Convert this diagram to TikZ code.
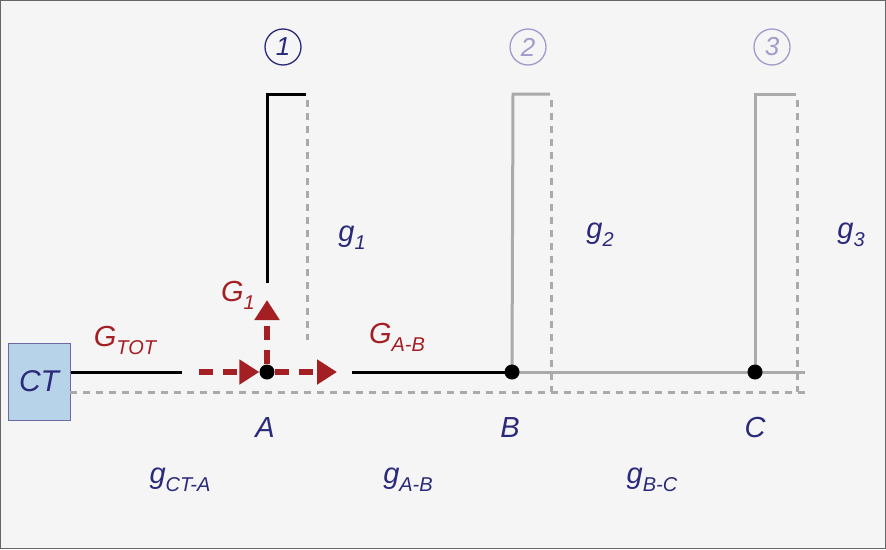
\documentclass[tikz,border=0pt]{standalone}
\usepackage{fontspec}
\setmainfont{Liberation Sans}
\usetikzlibrary{arrows.meta}
\definecolor{bg}{HTML}{F5F5F5}
\definecolor{navy}{HTML}{2B2A7A}
\definecolor{lav}{HTML}{A09CCC}
\definecolor{dred}{HTML}{A31F24}
\definecolor{lblue}{HTML}{B7D3EA}
\definecolor{lgray}{HTML}{AAAAAA}
\newcommand{\sbs}[1]{\raisebox{-8pt}{\fontsize{20}{22}\selectfont #1}}
\tikzset{
  lbl/.style={font=\fontsize{29}{31}\selectfont\itshape, text=navy, inner sep=0},
  rlbl/.style={lbl, text=dred},
  num/.style={circle, draw, line width=1.3pt, minimum size=36pt, inner sep=0, font=\fontsize{26}{28}\selectfont\itshape},
  blk/.style={line width=3pt, black},
  gry/.style={line width=3pt, lgray},
  dsh/.style={line width=3pt, lgray, dash pattern=on 7pt off 6pt},
  rarr/.style={line width=6pt, dred, dash pattern=on 14pt off 10pt, -{Triangle[length=20pt,width=24pt]}},
  dot/.style={circle, fill=black, minimum size=15pt, inner sep=0}
}
\begin{document}
\begin{tikzpicture}[x=1pt,y=-1pt]
\fill[bg] (0,0) rectangle (886,549);
\draw[gray!80!black, line width=1pt] (0.5,0.5) rectangle (885.5,548.5);
\node[draw=navy!70, fill=lblue, line width=1pt, minimum width=62pt, minimum height=77pt, inner sep=0, font=\fontsize{30}{32}\selectfont\itshape, text=navy] (CT) at (39,381.5) {CT};
\coordinate (A) at (267,372);
\coordinate (B) at (512,372);
\coordinate (C) at (755,372);
\coordinate (e) at (805,372);
% dashed ground line
\draw[dsh] (70,392) -- (805,392);
\draw[dsh] (307,100) -- (307,340);
\draw[dsh] (551,100) -- (551,392);
\draw[dsh] (797,100) -- (797,392);
% main line
\draw[blk] (CT.east |- 0,372) -- (182,372);
\draw[blk] (352,372) -- (B);
\draw[gry] (B) -- (e);
\draw[blk] (267,283) -- (267,94) -- (306,94);
\draw[gry] (B) -- (513,94) -- (550,94);
\draw[gry] (C) -- (755,94) -- (796,94);
\node[dot] (dA) at (A) {};
\node[dot] (dB) at (B) {};
\node[dot] (dC) at (C) {};
% arrows
\draw[rarr] (199,372) -- (dA.west);
\draw[rarr] (dA.east) -- (337,372);
\draw[rarr] (dA.north) -- (267,300);
% labels
\node[num, draw=navy, text=navy] (n1) at (283,47) {1};
\node[num, draw=lav, text=lav] (n2) at (528,47) {2};
\node[num, draw=lav, text=lav] (n3) at (772,47) {3};
\node[lbl] (g1) at (352,238) {g\sbs{1}};
\node[lbl] (g2) at (600,235) {g\sbs{2}};
\node[lbl] (g3) at (851,235) {g\sbs{3}};
\node[lbl] (lA) at (265,428) {A};
\node[lbl] (lB) at (510,428) {B};
\node[lbl] (lC) at (755,428) {C};
\node[lbl] (gca) at (180,480) {g\sbs{CT-A}};
\node[lbl] (gab) at (408,480) {g\sbs{A-B}};
\node[lbl] (gbc) at (652,480) {g\sbs{B-C}};
\node[rlbl] (GT) at (125,340) {G\sbs{TOT}};
\node[rlbl] (G1) at (238,295) {G\sbs{1}};
\node[rlbl] (GAB) at (397,337) {G\sbs{A-B}};
\end{tikzpicture}
\end{document}
